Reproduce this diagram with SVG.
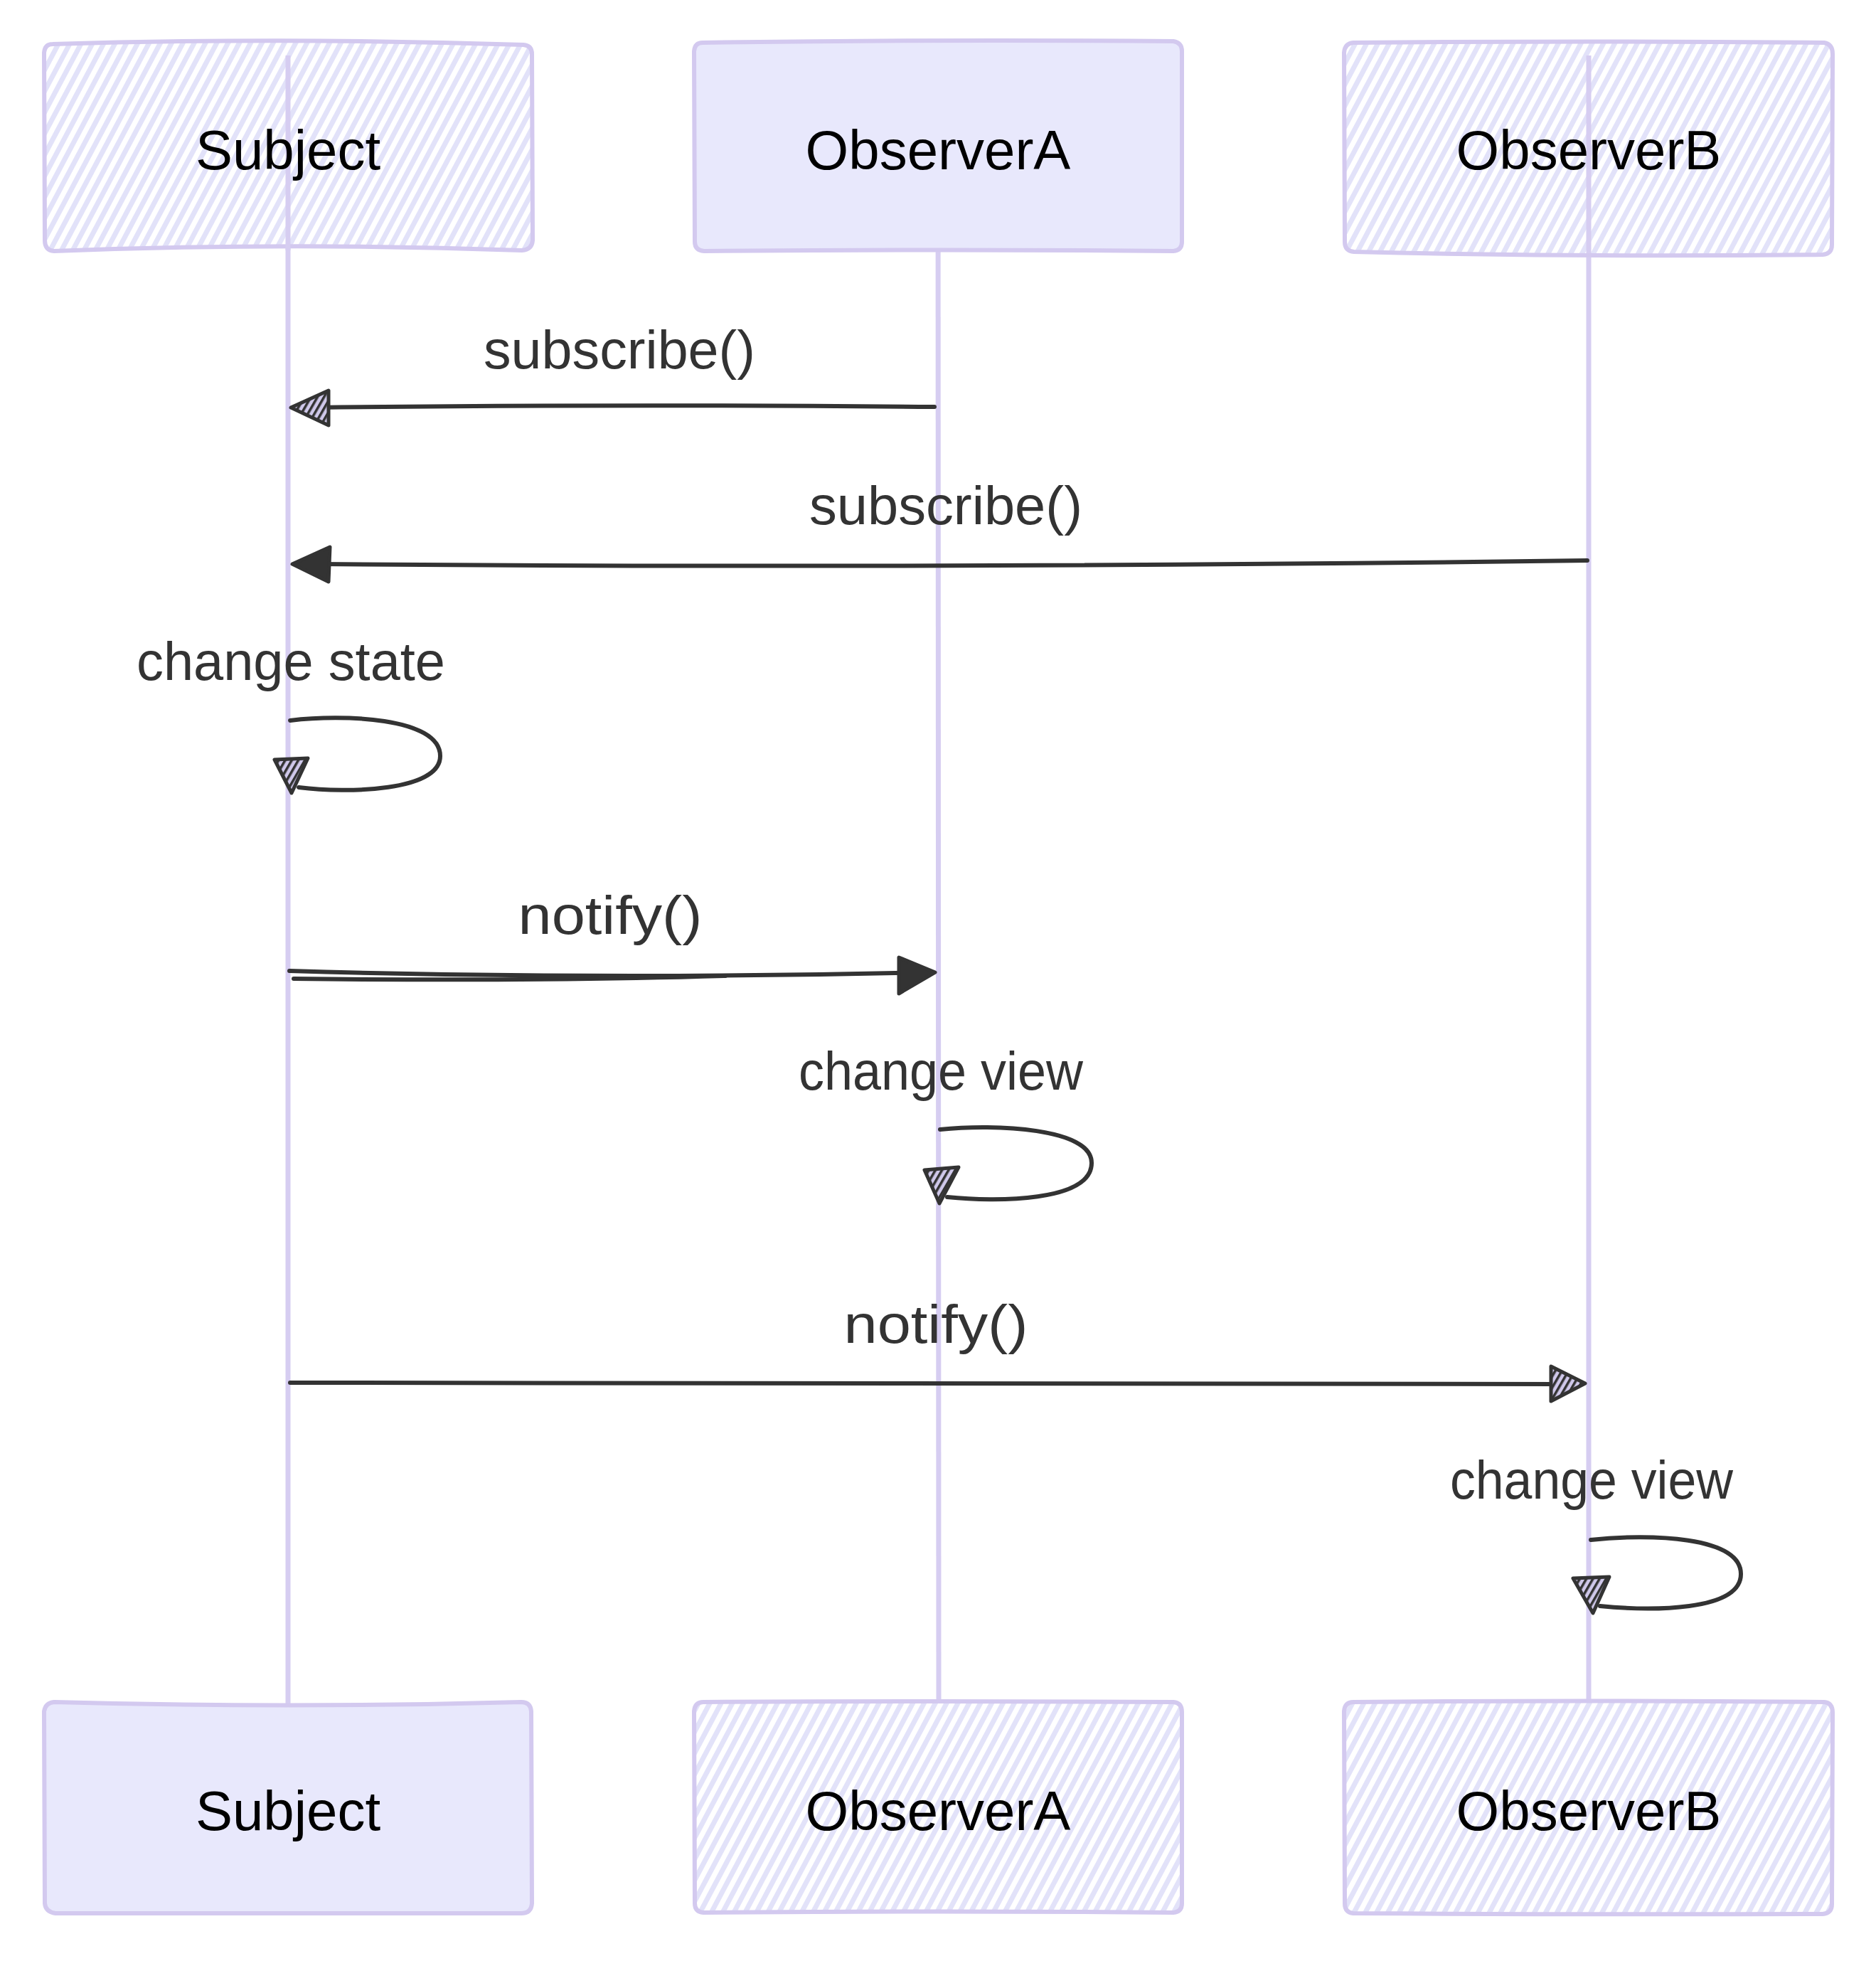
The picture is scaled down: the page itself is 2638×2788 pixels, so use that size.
<svg xmlns="http://www.w3.org/2000/svg" width="2638" height="2788" viewBox="0 0 2638 2788">
<style>
.box{stroke:#d3c9ef;stroke-width:6;stroke-linejoin:round}
.solid{fill:#e8e8fc}
.hatch{fill:url(#hl)}
.life{stroke:#d6cdf1;stroke-width:7;fill:none}
.actor{font-family:"Liberation Sans",Arial,sans-serif;font-size:78px;fill:#000;text-anchor:middle}
.msg{font-family:"Liberation Sans",Arial,sans-serif;font-size:76px;fill:#333;text-anchor:middle}
.ln{stroke:#333;stroke-width:6;fill:none;stroke-linecap:round}
.ah{stroke:#333;stroke-width:5;stroke-linejoin:round}
.ahh{fill:url(#hd)}
.ahs{fill:#333}
</style>
<defs>
<pattern id="hl" patternUnits="userSpaceOnUse" width="14" height="14" patternTransform="rotate(28)">
<rect width="14" height="14" fill="#ffffff"/>
<rect x="0" y="0" width="7" height="14" fill="#e2e2f9"/>
</pattern>
<pattern id="hd" patternUnits="userSpaceOnUse" width="8" height="8" patternTransform="rotate(30)">
<rect width="8" height="8" fill="#cfc8ea"/>
<rect x="0" y="0" width="3.5" height="8" fill="#333"/>
</pattern>
</defs>
<rect width="2638" height="2788" fill="#ffffff"/>

<g id="lifelines">
<path class="life" d="M405 78 L405 2395"/>
<path class="life" d="M1319 78 L1320 2394"/>
<path class="life" d="M2234 78 L2234 2394"/>
</g>

<g id="actor-subject-top">
<path class="box hatch" d="M74 62 Q405 52 736 63 Q748 64 748 76 L749 338 Q748 351 734 352 Q405 340 76 353 Q63 352 63 338 L62 74 Q63 62 74 62 Z"/>
<path class="life" d="M405 78 L405 352"/>
<text class="actor" x="405" y="238">Subject</text>
</g>

<g id="actor-observera-top">
<path class="box solid" d="M988 60 Q1319 55 1650 58 Q1662 60 1662 72 L1662 340 Q1662 352 1650 353 Q1319 350 990 353 Q977 352 977 340 L976 72 Q977 60 988 60 Z"/>
<text class="actor" x="1319" y="238">ObserverA</text>
</g>

<g id="actor-observerb-top">
<path class="box hatch" d="M1903 60 Q2233 57 2565 60 Q2577 62 2577 76 L2576 344 Q2576 357 2563 358 Q2233 362 1904 354 Q1891 353 1891 340 L1890 74 Q1891 61 1903 60 Z"/>
<path class="life" d="M2234 78 L2234 356"/>
<text class="actor" x="2234" y="238">ObserverB</text>
</g>

<g id="actor-subject-bottom">
<path class="box solid" d="M76 2393 Q405 2402 733 2393 Q746 2393 747 2406 L748 2676 Q747 2690 733 2690 L78 2690 Q64 2688 63 2676 L62 2406 Q64 2394 76 2393 Z"/>
<text class="actor" x="405" y="2573">Subject</text>
</g>

<g id="actor-observera-bottom">
<path class="box hatch" d="M989 2393 Q1319 2391 1650 2393 Q1662 2394 1662 2407 L1662 2676 Q1662 2688 1650 2689 Q1319 2686 989 2689 Q977 2688 977 2676 L976 2406 Q977 2393 989 2393 Z"/>
<text class="actor" x="1319" y="2573">ObserverA</text>
</g>

<g id="actor-observerb-bottom">
<path class="box hatch" d="M1903 2393 Q2233 2390 2565 2393 Q2577 2394 2577 2408 L2576 2677 Q2576 2690 2563 2691 Q2233 2692 1903 2690 Q1891 2689 1891 2676 L1890 2406 Q1891 2393 1903 2393 Z"/>
<text class="actor" x="2234" y="2573">ObserverB</text>
</g>

<g id="connectors">
<g id="msg1">
<text class="msg" x="871" y="518" textLength="382" lengthAdjust="spacingAndGlyphs">subscribe()</text>
<path class="ln" d="M1314 572 Q860 568 445 573"/>
<path class="ah ahh" d="M409 573 L462 549 L462 598 Z"/>
</g>
<g id="msg2">
<text class="msg" x="1330" y="737" textLength="384" lengthAdjust="spacingAndGlyphs">subscribe()</text>
<path class="ln" d="M2232 788 Q1320 800 450 793"/>
<path class="ah ahs" d="M411 793 L464 769 L462 818 Z"/>
</g>
<g id="msg3">
<text class="msg" x="409" y="956" textLength="434" lengthAdjust="spacingAndGlyphs">change state</text>
<path class="ln" d="M408 1013 C480 1004 619 1008 619 1063 C619 1112 490 1116 420 1107"/>
<path class="ah ahh" d="M386 1068 L433 1066 L410 1115 Z"/>
</g>
<g id="msg4">
<text class="msg" x="858" y="1313" textLength="259" lengthAdjust="spacingAndGlyphs">notify()</text>
<path class="ln" d="M407 1365 Q850 1378 1300 1367"/>
<path class="ln" d="M413 1376 Q760 1380 1020 1372"/>
<path class="ah ahs" d="M1315 1367 L1264 1346 L1264 1397 Z"/>
</g>
<g id="msg5">
<text class="msg" x="1323" y="1532" textLength="400" lengthAdjust="spacingAndGlyphs">change view</text>
<path class="ln" d="M1322 1588 C1400 1580 1535 1586 1535 1635 C1535 1690 1400 1690 1332 1683"/>
<path class="ah ahh" d="M1300 1645 L1348 1641 L1321 1692 Z"/>
</g>
<g id="msg6">
<text class="msg" x="1316" y="1888" textLength="259" lengthAdjust="spacingAndGlyphs">notify()</text>
<path class="ln" d="M408 1944 Q1300 1946 2190 1946"/>
<path class="ah ahh" d="M2229 1945 L2181 1921 L2181 1970 Z"/>
</g>
<g id="msg7">
<text class="msg" x="2238" y="2107" textLength="398" lengthAdjust="spacingAndGlyphs">change view</text>
<path class="ln" d="M2237 2165 C2320 2156 2448 2160 2448 2213 C2448 2266 2320 2265 2250 2258"/>
<path class="ah ahh" d="M2212 2219 L2263 2217 L2240 2268 Z"/>
</g>
</g>
</svg>
